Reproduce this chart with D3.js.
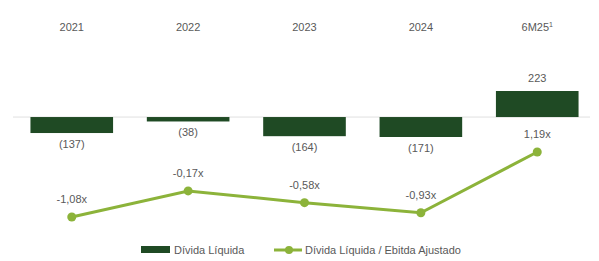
<!DOCTYPE html>
<html>
<head>
<meta charset="utf-8">
<script src="https://cdn.jsdelivr.net/npm/d3@7"></script>
<style>
  body { margin: 0; background: #fff; }
  text { font-family: "Liberation Sans", Arial, sans-serif; fill: #595959; }
</style>
</head>
<body>
<div id="chart"></div>
<script>
const categories = ["2021", "2022", "2023", "2024", "6M25"];
const netDebt = [-137, -38, -164, -171, 223];
const leverage = [-1.08, -0.17, -0.58, -0.93, 1.19];
const barColor = "#1f4a24";
const lineColor = "#8cb33a";

const W = 599, H = 261;

const svg = d3.select("#chart").append("svg")
    .attr("width", W)
    .attr("height", H);

const x = d3.scaleBand()
    .domain(categories)
    .range([13, 596])
    .paddingInner(0.29)
    .paddingOuter(0.15);

const yBar = d3.scaleLinear()
    .domain([-171, 223])
    .range([137, 91]);

const yLine = d3.scaleLinear()
    .domain([-1.08, 1.19])
    .range([217, 152]);

const fmt = v => v < 0 ? "(" + Math.abs(v) + ")" : String(v);
const fmtX = v => v.toFixed(2).replace(".", ",") + "x";

// year labels along the top
const years = svg.append("g").attr("class", "years");
years.selectAll("text")
    .data(categories)
    .enter()
    .append("text")
    .attr("x", d => x(d) + x.bandwidth() / 2)
    .attr("y", 31)
    .attr("text-anchor", "middle")
    .attr("font-size", 11)
    .text(d => d)
    .filter(d => d === "6M25")
    .append("tspan")
    .attr("dy", -4)
    .attr("font-size", 7)
    .text("1");

// baseline
svg.append("line")
    .attr("x1", 13).attr("x2", 590)
    .attr("y1", yBar(0)).attr("y2", yBar(0))
    .attr("stroke", "#e0e0e0")
    .attr("stroke-width", 1);

// bars
svg.append("g").selectAll("rect")
    .data(netDebt)
    .enter()
    .append("rect")
    .attr("x", (d, i) => x(categories[i]))
    .attr("width", x.bandwidth())
    .attr("y", d => yBar(Math.max(0, d)))
    .attr("height", d => Math.abs(yBar(d) - yBar(0)))
    .attr("fill", barColor);

svg.append("g").selectAll("text")
    .data(netDebt)
    .enter()
    .append("text")
    .attr("x", (d, i) => x(categories[i]) + x.bandwidth() / 2)
    .attr("y", d => d < 0 ? yBar(d) + 15 : yBar(d) - 9)
    .attr("text-anchor", "middle")
    .attr("font-size", 11)
    .text(fmt);

// leverage line
const line = d3.line()
    .x((d, i) => x(categories[i]) + x.bandwidth() / 2)
    .y(d => yLine(d));

svg.append("path")
    .datum(leverage)
    .attr("d", line)
    .attr("fill", "none")
    .attr("stroke", lineColor)
    .attr("stroke-width", 3);

svg.append("g").selectAll("circle")
    .data(leverage)
    .enter()
    .append("circle")
    .attr("cx", (d, i) => x(categories[i]) + x.bandwidth() / 2)
    .attr("cy", d => yLine(d))
    .attr("r", 4.5)
    .attr("fill", lineColor);

svg.append("g").selectAll("text")
    .data(leverage)
    .enter()
    .append("text")
    .attr("x", (d, i) => x(categories[i]) + x.bandwidth() / 2)
    .attr("y", d => yLine(d) - 14)
    .attr("text-anchor", "middle")
    .attr("font-size", 11)
    .text(fmtX);

// legend
const legend = svg.append("g").attr("transform", "translate(0, 250)");
legend.append("rect")
    .attr("x", 141).attr("y", -4)
    .attr("width", 29).attr("height", 7)
    .attr("fill", barColor);
legend.append("text")
    .attr("x", 174).attr("y", 4)
    .attr("font-size", 11)
    .text("Dívida Líquida");
legend.append("line")
    .attr("x1", 274).attr("x2", 302)
    .attr("y1", 0).attr("y2", 0)
    .attr("stroke", lineColor)
    .attr("stroke-width", 3);
legend.append("circle")
    .attr("cx", 289).attr("cy", 0)
    .attr("r", 4)
    .attr("fill", lineColor);
legend.append("text")
    .attr("x", 305).attr("y", 4)
    .attr("font-size", 11)
    .text("Dívida Líquida / Ebitda Ajustado");
</script>
</body>
</html>
